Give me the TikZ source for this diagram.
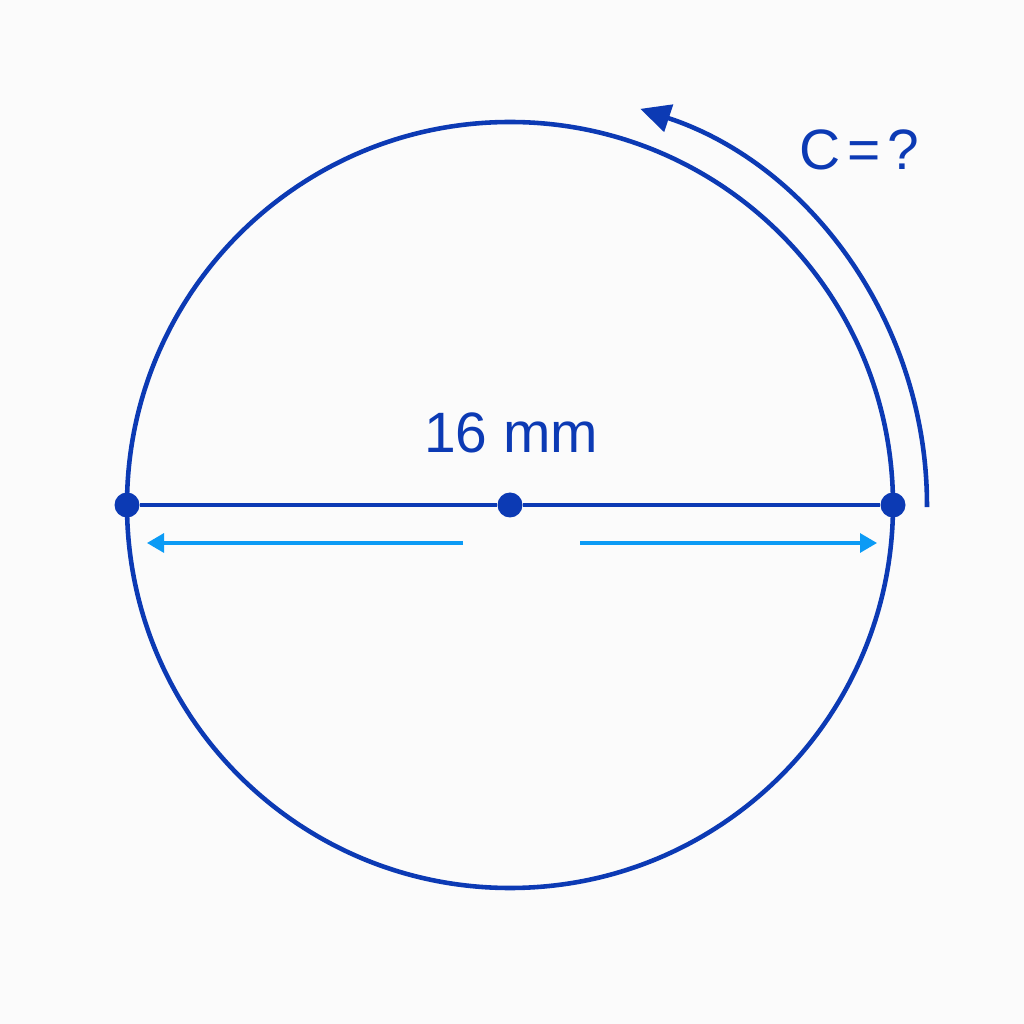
\documentclass[tikz,border=0pt]{standalone}
\usepackage{fontspec}
\setmainfont{Liberation Sans}
\usetikzlibrary{arrows.meta,calc}
\definecolor{dblue}{RGB}{12,58,180}
\definecolor{lblue}{RGB}{12,155,245}
\definecolor{bg}{RGB}{251,251,251}
\tikzset{
  dot/.style={circle, fill=dblue, inner sep=0pt, minimum size=0.25cm},
  mainline/.style={draw=dblue, line width=1.3pt},
  dimarrow/.style={draw=lblue, line width=0.9pt, -{Triangle[length=0.17cm,width=0.19cm]}},
  lbl/.style={text=dblue, font=\fontsize{16.2}{19}\selectfont, inner sep=0pt}
}
\begin{document}
\begin{tikzpicture}
\fill[bg] (0,0) rectangle (10.24,10.24);
\useasboundingbox (0,0) rectangle (10.24,10.24);
\coordinate (O) at (5.10,5.19);
\node[circle, mainline, minimum size=7.66cm, inner sep=0pt] (circ) at (O) {};
\node[dot] (L) at (1.27,5.19) {};
\node[dot] (M) at (5.10,5.19) {};
\node[dot] (R) at (8.93,5.19) {};
\draw[mainline] (L) -- (M);
\draw[mainline] (M) -- (R);
\coordinate (la) at (4.63,4.81);
\coordinate (lb) at (1.47,4.81);
\coordinate (ra) at (5.80,4.81);
\coordinate (rb) at (8.77,4.81);
\draw[dimarrow] (la) -- (lb);
\draw[dimarrow] (ra) -- (rb);
\coordinate (arcstart) at ($(O)+(-0.3:4.17)$);
\draw[draw=dblue, line width=1.3pt, -{Triangle[length=0.30cm,width=0.28cm]}]
  (arcstart) arc[start angle=-0.3, end angle=71.8, radius=4.17];
\node[lbl] (dlabel) at (5.11,5.91) {16 mm};
\node[lbl] (clabel) at (8.59,8.74) {C\hspace{0.12em}=\hspace{0.12em}?};
\end{tikzpicture}
\end{document}
